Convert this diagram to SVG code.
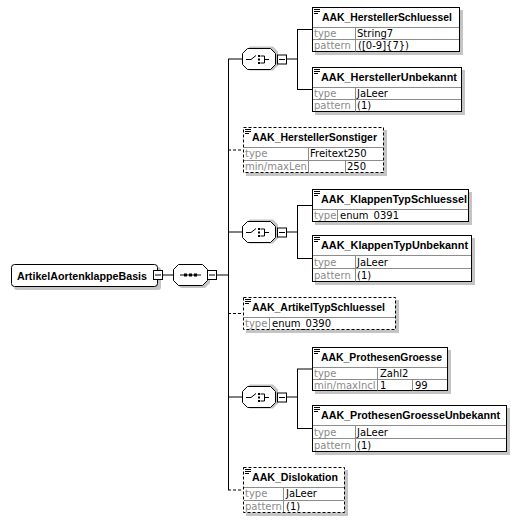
<svg xmlns="http://www.w3.org/2000/svg" width="521" height="523" viewBox="0 0 521 523">
<style>
.bg{fill:#ffffff}
.sh{fill:#c4c4c4}
.box{fill:#ffffff;stroke:#000;stroke-width:1}
.dbox{fill:#ffffff;stroke:#000;stroke-width:1;stroke-dasharray:3,2}
.sep{stroke:#8c8c8c;stroke-width:1;fill:none}
.ln{stroke:#000;stroke-width:1;fill:none}
.dln{stroke:#000;stroke-width:1;fill:none;stroke-dasharray:3,2}
.t{font-family:"Liberation Sans",Arial,sans-serif;font-size:11px;font-weight:bold;fill:#000}
.l{font-family:"DejaVu Sans",Verdana,sans-serif;font-size:10px;fill:#8a8a8a}
.v{font-family:"DejaVu Sans",Verdana,sans-serif;font-size:10px;fill:#000}
.ic{stroke:#000;stroke-width:1;fill:none}
</style>
<defs>
<g id="menu"><path d="M2,2.5H8M2,4.5H8M2,6.5H6" stroke="#000" stroke-width="1" fill="none"/></g>
<g id="minus"><rect x="0.5" y="0.5" width="9" height="9" fill="#fff" stroke="#000"/><path d="M2,5H8" stroke="#000"/></g>
<g id="choice">
<path d="M3,-7.5L8,-12.5H31L36,-7.5V6.5L31,11.5H8L3,6.5Z" class="sh"/>
<path d="M0.5,-5.5L5.5,-10.5H28.5L33.5,-5.5V5.5L28.5,10.5H5.5L0.5,5.5Z" fill="#fff" stroke="#000"/>
<path d="M4,0.5H9L14,-3.5" class="ic"/>
<rect x="16" y="-4" width="2" height="2" fill="#000"/>
<rect x="16" y="-0.5" width="2" height="2" fill="#000"/>
<rect x="16" y="3" width="2" height="2" fill="#000"/>
<path d="M18.5,-3H22.5V4H18.5M22.5,0.5H27" class="ic"/>
<use href="#minus" x="35" y="-4.5"/>
</g>
</defs>
<rect x="0" y="0" width="521" height="523" class="bg"/>

<g id="connectors">
<path d="M163,275H173" class="ln"/>
<path d="M216,275H228" class="ln"/>
<path d="M228.5,59V490" class="ln"/>
<path d="M228,59H242M228,232H242M228,397H242" class="ln"/>
<path d="M228,150H243M228,313.5H243M228,490H243" class="dln"/>
<path d="M286,59H297M297.5,29.5V89.5M297,29.5H312M297,89.5H312" class="ln"/>
<path d="M286,232H297M297.5,205.5V258.5M297,205.5H312M297,258.5H312" class="ln"/>
<path d="M286,397H297M297.5,369V428.5M297,369H312M297,428.5H312" class="ln"/>
</g>

<g id="ArtikelAortenklappeBasis">
<rect x="14" y="267" width="147" height="23" rx="3" class="sh"/>
<rect x="11.5" y="264.5" width="146" height="22" rx="3" class="box"/>
<text x="17" y="279.5" class="t" textLength="130" lengthAdjust="spacingAndGlyphs">ArtikelAortenklappeBasis</text>
<use href="#minus" x="153" y="270"/>
</g>

<g id="sequence">
<path d="M176,272L181,267H205L210,272V283L205,288H181L176,283Z" class="sh"/>
<path d="M173.5,269.5L178.5,264.5H202.5L207.5,269.5V280.5L202.5,285.5H178.5L173.5,280.5Z" fill="#fff" stroke="#000"/>
<path d="M180,275H201" class="ic"/>
<rect x="184" y="273.5" width="3" height="3" fill="#000"/>
<rect x="189" y="273.5" width="3" height="3" fill="#000"/>
<rect x="194" y="273.5" width="3" height="3" fill="#000"/>
<use href="#minus" x="207" y="270"/>
</g>

<g id="choice1" transform="translate(242,59)"><use href="#choice"/></g>
<g id="choice2" transform="translate(242,232)"><use href="#choice"/></g>
<g id="choice3" transform="translate(242,397)"><use href="#choice"/></g>

<g id="AAK_HerstellerSchluessel">
<rect x="315" y="10" width="148" height="45" class="sh"/>
<rect x="312.5" y="7.5" width="147" height="44" class="box"/>
<path d="M313,27.5H459M313,39.5H459M355.5,27.5V51.5" class="sep"/>
<use href="#menu" x="312" y="7"/>
<text x="322" y="20.5" class="t" textLength="130" lengthAdjust="spacingAndGlyphs">AAK_HerstellerSchluessel</text>
<text x="314" y="36.5" class="l">type</text><text x="357" y="36.5" class="v">String7</text>
<text x="314" y="49" class="l">pattern</text><text x="358" y="49" class="v">([0-9]{7})</text>
</g>

<g id="AAK_HerstellerUnbekannt">
<rect x="315" y="70" width="150" height="45" class="sh"/>
<rect x="312.5" y="67.5" width="149" height="44" class="box"/>
<path d="M313,87.5H461M313,99.5H461M355.5,87.5V111.5" class="sep"/>
<use href="#menu" x="312" y="67"/>
<text x="321" y="80.5" class="t" textLength="136" lengthAdjust="spacingAndGlyphs">AAK_HerstellerUnbekannt</text>
<text x="314" y="96.5" class="l">type</text><text x="357" y="96.5" class="v">JaLeer</text>
<text x="314" y="109" class="l">pattern</text><text x="357" y="109" class="v">(1)</text>
</g>

<g id="AAK_HerstellerSonstiger">
<rect x="246" y="130" width="141" height="46" class="sh"/>
<rect x="243.5" y="127.5" width="140" height="45" class="dbox"/>
<path d="M244,147.5H383M244,160.5H383M308.5,147.5V172M345.5,160.5V172" class="sep"/>
<use href="#menu" x="243" y="127"/>
<text x="252" y="140.5" class="t" textLength="125" lengthAdjust="spacingAndGlyphs">AAK_HerstellerSonstiger</text>
<text x="245" y="157" class="l">type</text><text x="310" y="157" class="v">Freitext250</text>
<text x="245" y="170" class="l">min/maxLen</text><text x="347" y="170" class="v">250</text>
</g>

<g id="AAK_KlappenTypSchluessel">
<rect x="315" y="192" width="157" height="33" class="sh"/>
<rect x="312.5" y="189.5" width="156" height="32" class="box"/>
<path d="M313,209.5H468M337.5,209.5V221.5" class="sep"/>
<use href="#menu" x="312" y="189"/>
<text x="321" y="202.5" class="t" textLength="146" lengthAdjust="spacingAndGlyphs">AAK_KlappenTypSchluessel</text>
<text x="314" y="219" class="l">type</text><text x="340" y="219" class="v">enum_0391</text>
</g>

<g id="AAK_KlappenTypUnbekannt">
<rect x="315" y="238" width="160" height="47" class="sh"/>
<rect x="312.5" y="235.5" width="159" height="46" class="box"/>
<path d="M313,255.5H471M313,268.5H471M355.5,255.5V281.5" class="sep"/>
<use href="#menu" x="312" y="235"/>
<text x="321" y="248.5" class="t" textLength="147" lengthAdjust="spacingAndGlyphs">AAK_KlappenTypUnbekannt</text>
<text x="314" y="265.5" class="l">type</text><text x="357" y="265.5" class="v">JaLeer</text>
<text x="314" y="278.5" class="l">pattern</text><text x="357" y="278.5" class="v">(1)</text>
</g>

<g id="AAK_ArtikelTypSchluessel">
<rect x="246" y="300" width="153" height="33" class="sh"/>
<rect x="243.5" y="297.5" width="152" height="32" class="dbox"/>
<path d="M244,317.5H395M269.5,317.5V329" class="sep"/>
<use href="#menu" x="243" y="297"/>
<text x="252" y="310.5" class="t" textLength="133" lengthAdjust="spacingAndGlyphs">AAK_ArtikelTypSchluessel</text>
<text x="245" y="327" class="l">type</text><text x="272" y="327" class="v">enum_0390</text>
</g>

<g id="AAK_ProthesenGroesse">
<rect x="315" y="350" width="136" height="44" class="sh"/>
<rect x="312.5" y="347.5" width="135" height="43" class="box"/>
<path d="M313,367.5H447M313,379.5H447M377.5,367.5V390.5M412.5,379.5V390.5" class="sep"/>
<use href="#menu" x="312" y="347"/>
<text x="321" y="360.5" class="t" textLength="121" lengthAdjust="spacingAndGlyphs">AAK_ProthesenGroesse</text>
<text x="314" y="376.5" class="l">type</text><text x="380" y="376.5" class="v">Zahl2</text>
<text x="314" y="388.5" class="l">min/maxIncl</text><text x="380" y="388.5" class="v">1</text><text x="415" y="388.5" class="v">99</text>
</g>

<g id="AAK_ProthesenGroesseUnbekannt">
<rect x="315" y="408" width="195" height="47" class="sh"/>
<rect x="312.5" y="405.5" width="194" height="46" class="box"/>
<path d="M313,425.5H506M313,438.5H506M355.5,425.5V451.5" class="sep"/>
<use href="#menu" x="312" y="405"/>
<text x="321" y="418.5" class="t" textLength="179" lengthAdjust="spacingAndGlyphs">AAK_ProthesenGroesseUnbekannt</text>
<text x="314" y="435.5" class="l">type</text><text x="357" y="435.5" class="v">JaLeer</text>
<text x="314" y="448.5" class="l">pattern</text><text x="357" y="448.5" class="v">(1)</text>
</g>

<g id="AAK_Dislokation">
<rect x="246" y="470" width="102" height="46" class="sh"/>
<rect x="243.5" y="467.5" width="101" height="45" class="dbox"/>
<path d="M244,487.5H344M244,500.5H344M283.5,487.5V512" class="sep"/>
<use href="#menu" x="243" y="467"/>
<text x="252" y="480.5" class="t" textLength="86" lengthAdjust="spacingAndGlyphs">AAK_Dislokation</text>
<text x="245" y="497" class="l">type</text><text x="286" y="497" class="v">JaLeer</text>
<text x="245" y="510" class="l">pattern</text><text x="286" y="510" class="v">(1)</text>
</g>
</svg>
